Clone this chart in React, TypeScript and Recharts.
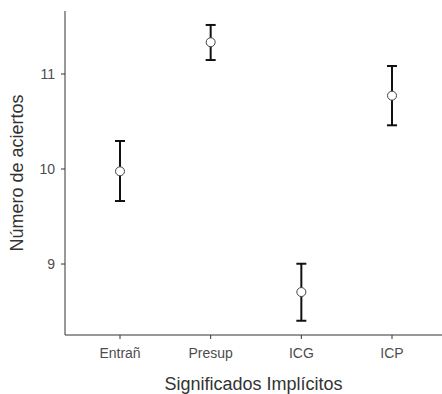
import {
  ComposedChart,
  Scatter,
  ErrorBar,
  XAxis,
  YAxis,
} from "recharts";

const CATEGORIES = ["Entrañ", "Presup", "ICG", "ICP"];
const MEANS = [9.976, 11.334, 8.705, 10.772];
const LOWER = [9.663, 11.147, 8.403, 10.46];
const UPPER = [10.295, 11.516, 9.003, 11.084];
const Y_TICKS = [9, 10, 11];

const data = CATEGORIES.map((name, i) => ({
  name,
  mean: MEANS[i],
  err: [MEANS[i] - LOWER[i], UPPER[i] - MEANS[i]],
}));

const FONT = "'Liberation Sans', Arial, Helvetica, sans-serif";

function Dot(props: { cx?: number; cy?: number }) {
  const { cx, cy } = props;
  if (cx == null || cy == null) return null;
  return <circle cx={cx} cy={cy} r={4.5} fill="#fff" stroke="#444" strokeWidth={1} />;
}

export default function App() {
  return (
    <div style={{ width: 442, height: 394, background: "#fff", fontFamily: FONT }}>
      <style>{"body{margin:0}"}</style>
      <ComposedChart
        width={442}
        height={394}
        data={data}
        margin={{ top: 11, right: 0, bottom: 0, left: 0 }}
      >
        <XAxis
          dataKey="name"
          type="category"
          height={59}
          padding={{ left: 55, right: 50 }}
          axisLine={{ stroke: "#333", strokeWidth: 1 }}
          tickLine={{ stroke: "#333" }}
          tickSize={4}
          tickMargin={9}
          tick={{ fontSize: 14, fill: "#4d4d4d", fontFamily: FONT }}
          label={{
            value: "Significados Implícitos",
            position: "insideBottom",
            offset: 4,
            style: { fontSize: 18, fill: "#333", fontFamily: FONT },
          }}
        />
        <YAxis
          type="number"
          width={65}
          domain={[8.253, 11.663]}
          ticks={Y_TICKS}
          allowDataOverflow
          axisLine={{ stroke: "#333", strokeWidth: 1 }}
          tickLine={{ stroke: "#333" }}
          tickSize={4}
          tickMargin={6}
          tick={{ fontSize: 14, fill: "#4d4d4d", fontFamily: FONT }}
          label={{
            value: "Número de aciertos",
            angle: -90,
            position: "insideLeft",
            offset: 17,
            style: { fontSize: 18, fill: "#333", fontFamily: FONT, textAnchor: "middle" },
          }}
        />
        <Scatter dataKey="mean" shape={<Dot />} isAnimationActive={false}>
          <ErrorBar
            dataKey="err"
            direction="y"
            width={5}
            stroke="#111"
            strokeWidth={2}
            isAnimationActive={false}
          />
        </Scatter>
      </ComposedChart>
    </div>
  );
}
